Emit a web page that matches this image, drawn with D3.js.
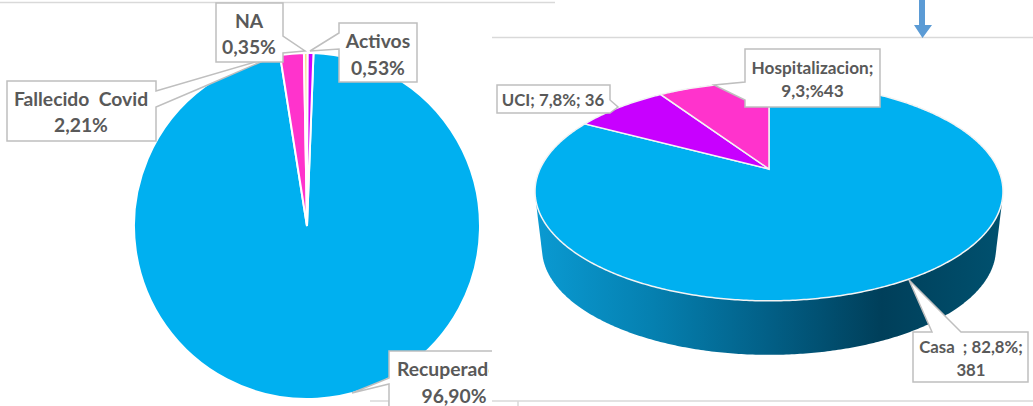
<!DOCTYPE html>
<html lang="en">
<head>
    <meta charset="UTF-8">
    <title>Estado de casos</title>
    <style>
        body { margin: 0; background: #fff; }
        svg { display: block; }
        text { font-family: Lato, "Open Sans", sans-serif; font-weight: 700; fill: #595959; white-space: pre; }
        .callout { fill: #fff; stroke: #bfbfbf; stroke-width: 1.5; stroke-linejoin: miter; }
        .rule { stroke: #d9d9d9; stroke-width: 1.5; fill: none; }
    </style>
</head>
<body>
<svg height="406" width="1033"></svg>

<script src="https://d3js.org/d3.v7.min.js"></script>

<script>

    // left pie
    var estadoNames = ["Recuperado", "Fallecido Covid", "NA", "Activos"];
    var estadoValues = [96.90, 2.21, 0.35, 0.53];
    var estadoColors = ["#00b0f0", "#ff33cc", "#f9dc8c", "#cc00ff"];

    // right pie
    var lugarNames = ["Casa", "UCI", "Hospitalizacion"];
    var lugarValues = [381, 36, 43];
    var lugarColors = ["#00b0f0", "#c800ff", "#ff33cc"];

    var svg = d3.select("svg");
    var rad = Math.PI / 180;

    var defs = svg.append("defs");

    defs.append("clipPath").attr("id", "leftPanel")
        .append("rect").attr("x", 0).attr("y", 0).attr("width", 492).attr("height", 406);
    defs.append("clipPath").attr("id", "cutWord")
        .append("rect").attr("x", 0).attr("y", 0).attr("width", 489).attr("height", 406);

    var sideGradient = defs.append("linearGradient")
        .attr("id", "sideGradient")
        .attr("gradientUnits", "userSpaceOnUse")
        .attr("x1", 536).attr("x2", 1003).attr("y1", 0).attr("y2", 0);
    [[0, "#0a9ad2"], [0.25, "#0580b0"], [0.5, "#025f86"], [0.74, "#003f5a"], [1, "#00516f"]].forEach(function(s) {
        sideGradient.append("stop").attr("offset", s[0]).attr("stop-color", s[1]);
    });

    function callout(parent, points) {
        parent.append("path")
            .attr("class", "callout")
            .attr("d", d3.line()(points) + "Z");
    }

    function label(parent, x, y, size, str) {
        return parent.append("text")
            .attr("x", x)
            .attr("y", y)
            .attr("text-anchor", "middle")
            .attr("font-size", size)
            .text(str);
    }

    function pct(v) {
        return d3.format(".2f")(v).replace(".", ",") + "%";
    }

    // rules left over from the slide behind the charts
    var rules = [
        [[0, 2.5], [555, 2.5]],
        [[492, 37.5], [1033, 37.5]],
        [[370, 401], [389, 401]],
        [[492, 401], [1033, 401]],
        [[389, 401], [389, 406]],
        [[518, 401], [518, 406]]
    ];
    svg.append("g").selectAll("path").data(rules).enter().append("path")
        .attr("class", "rule")
        .attr("d", d3.line());

    // arrow
    svg.append("path")
        .attr("fill", "#5b9bd5")
        .attr("d", d3.line()([[919, 0], [925, 0], [925, 25], [932, 25], [922.5, 38], [914, 25], [919, 25]]) + "Z");

    // ---- left pie
    var leftPie = d3.pie().sort(null)
        .startAngle(2.15 * rad)
        .endAngle(362.15 * rad);
    var leftArc = d3.arc().innerRadius(0).outerRadius(173);

    var leftChart = svg.append("g").attr("clip-path", "url(#leftPanel)");

    leftChart.append("g")
        .attr("transform", "translate(307,226)")
        .selectAll("path")
        .data(leftPie(estadoValues))
        .enter().append("path")
        .attr("d", leftArc)
        .attr("fill", function(d, i) { return estadoColors[i]; })
        .attr("stroke", "#fff")
        .attr("stroke-width", 2);

    var leftLabels = leftChart.append("g");

    callout(leftLabels, [[156, 81], [156, 91], [272, 57], [203, 87], [156, 107], [156, 141], [7, 141], [7, 81]]);
    callout(leftLabels, [[216, 3], [283, 3], [283, 36], [305, 51], [283, 53], [283, 62], [216, 62]]);
    callout(leftLabels, [[339, 23], [417, 23], [417, 82], [339, 82], [339, 49], [310, 51], [339, 33]]);
    callout(leftLabels, [[389, 351], [500, 351], [500, 412], [389, 412], [389, 384], [352, 393], [389, 378]]);

    label(leftLabels, 81, 105.5, 19.3, "Fallecido  Covid");
    label(leftLabels, 81, 132, 19.3, pct(estadoValues[1]));
    label(leftLabels, 249, 27.5, 19.3, estadoNames[2]);
    label(leftLabels, 249, 53.5, 19.3, pct(estadoValues[2]));
    label(leftLabels, 378, 47.5, 19.3, estadoNames[3]);
    label(leftLabels, 378, 74.5, 19.3, pct(estadoValues[3]));

    label(leftLabels, 397, 375.5, 19.3, estadoNames[0])
        .attr("text-anchor", "start")
        .attr("clip-path", "url(#cutWord)");
    label(leftLabels, 454, 402.5, 19.3, pct(estadoValues[0]));

    // ---- right pie, a disc seen in perspective
    var discX = 769, discY = 169, discA = 229, discB = 104.8, discP = 0.205;
    var depthScale = 0.97, depthShift = 58;

    function rim(angle, k, dy) {
        var w = 1 + discP * Math.cos(angle);
        return [discX + k * discA * Math.sin(angle) / w,
                discY + dy - k * discB * Math.cos(angle) / w];
    }

    var angleSteps = d3.range(0, 2 * Math.PI, 0.01);
    var hull = d3.polygonHull(
        angleSteps.map(function(a) { return rim(a, 1, 0); })
            .concat(angleSteps.map(function(a) { return rim(a, depthScale, depthShift); }))
    );

    var rightChart = svg.append("g");

    rightChart.append("path")
        .attr("d", d3.line()(hull) + "Z")
        .attr("fill", "url(#sideGradient)");

    var rightPie = d3.pie().sort(null);

    rightChart.selectAll(".slice")
        .data(rightPie(lugarValues))
        .enter().append("path")
        .attr("class", "slice")
        .attr("d", function(d) {
            var pts = d3.range(d.startAngle, d.endAngle, 0.01)
                .concat([d.endAngle])
                .map(function(a) { return rim(a, 1, 0); });
            return d3.line()([[discX, discY]].concat(pts)) + "Z";
        })
        .attr("fill", function(d, i) { return lugarColors[i]; })
        .attr("stroke", "#f4f4f4")
        .attr("stroke-width", 1.5);

    var rightLabels = svg.append("g");

    callout(rightLabels, [[745, 49], [880, 49], [880, 107], [745, 107], [745, 100], [714, 85], [745, 82]]);
    callout(rightLabels, [[497, 85], [610, 85], [610, 100], [618, 107], [610, 113], [497, 113]]);
    callout(rightLabels, [[913, 332], [932, 332], [909, 280], [961, 332], [1028, 332], [1028, 382], [913, 382]]);

    label(rightLabels, 812.5, 74, 17.2, lugarNames[2] + ";");
    label(rightLabels, 812.5, 97, 17.2, "9,3;%" + lugarValues[2]);
    label(rightLabels, 553, 106, 16.8, lugarNames[1] + "; 7,8%; " + lugarValues[1]);
    label(rightLabels, 971, 352.5, 16.8, lugarNames[0] + "  ; 82,8%;");
    label(rightLabels, 971, 375.5, 16.8, lugarValues[0]);

</script>
</body>
</html>
